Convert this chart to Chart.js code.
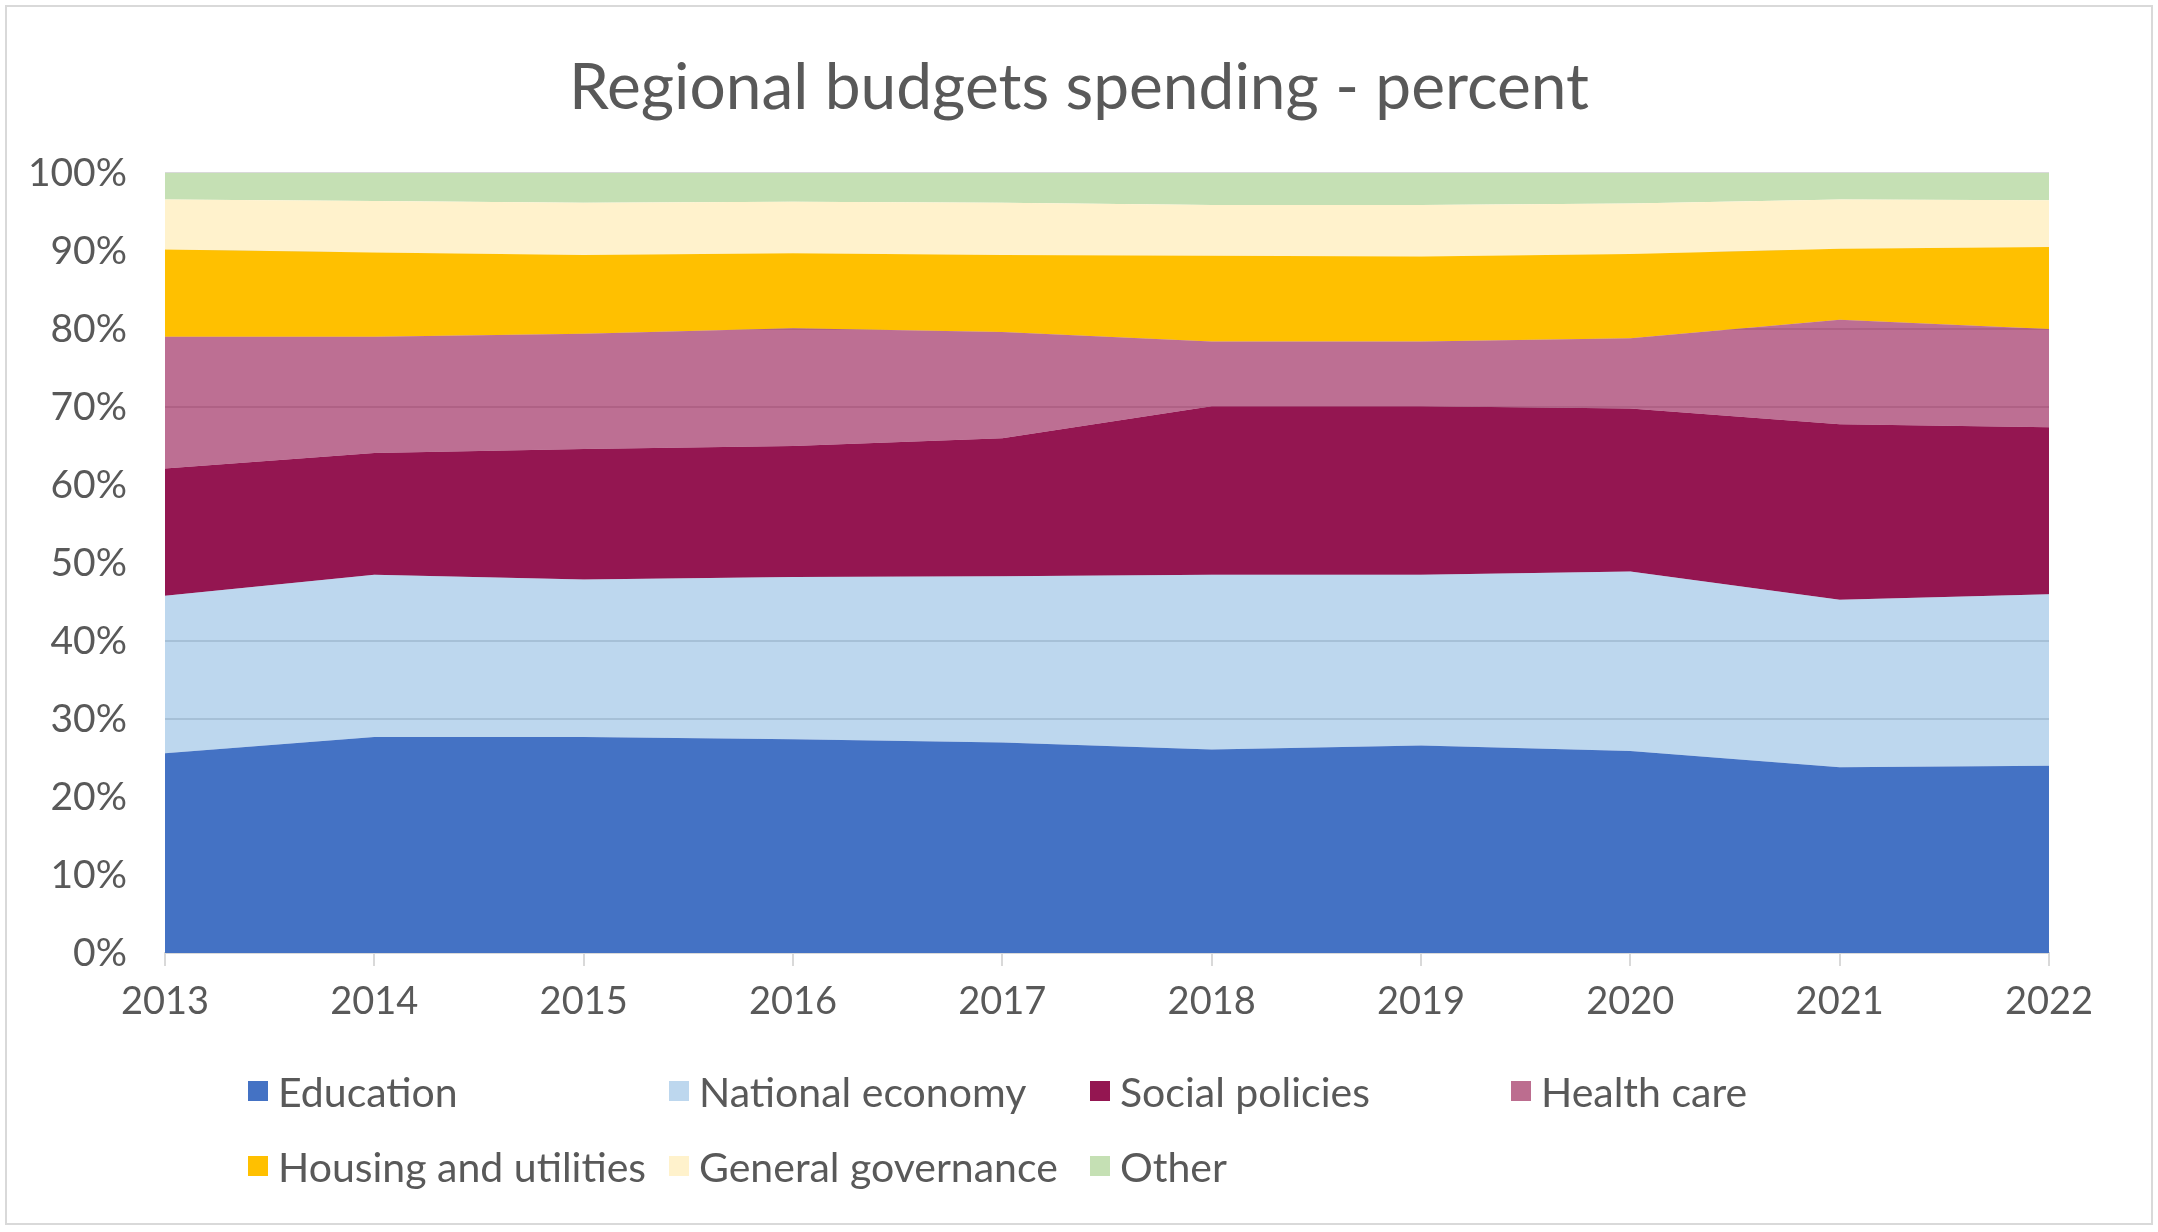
<!DOCTYPE html>
<html>
<head>
<meta charset="utf-8">
<script src="https://cdn.jsdelivr.net/npm/chart.js@4"></script>
<style>
  body { margin: 0; background: #fff; }
  #wrap { position: relative; width: 2158px; height: 1232px; }
  #frame { position: absolute; left: 5px; top: 5px; width: 2144px; height: 1216px; border: 2px solid #D9D9D9; }
  #chart { position: absolute; left: 0; top: 0; }
  #title { position: absolute; left: 0; width: 2158px; top: 46px; line-height: 77px; text-align: center;
    font-family: Lato, "Open Sans", sans-serif; font-size: 64px; color: #595959; }
  #legend { position: absolute; left: 248px; top: 1067px; display: grid; grid-template-columns: repeat(4, 421px); row-gap: 27px;
    font-family: Lato, "Open Sans", sans-serif; font-size: 41px; color: #595959; }
  .item { display: flex; align-items: center; height: 48px; white-space: nowrap; }
  .box { width: 20px; height: 20px; margin-right: 10px; }
</style>
</head>
<body>
<div id="wrap">
  <div id="frame"></div>
  <canvas id="chart" width="2158" height="1232"></canvas>
  <div id="title">Regional budgets spending - percent</div>
  <div id="legend"></div>
</div>
<script>
const years = ["2013", "2014", "2015", "2016", "2017", "2018", "2019", "2020", "2021", "2022"];
const education = [25.6, 27.7, 27.7, 27.4, 27.0, 26.1, 26.6, 25.9, 23.8, 24.0];
const nationalEconomy = [20.2, 20.8, 20.2, 20.8, 21.3, 22.4, 21.9, 23.0, 21.5, 22.0];
const socialPolicies = [16.3, 15.6, 16.7, 16.8, 17.7, 21.6, 21.6, 20.9, 22.5, 21.4];
const healthCare = [16.9, 14.9, 14.8, 15.1, 13.6, 8.3, 8.3, 9.0, 13.4, 12.6];
const housing = [11.2, 10.8, 10.1, 9.6, 9.9, 11.0, 10.9, 10.8, 9.1, 10.5];
const governance = [6.4, 6.6, 6.7, 6.6, 6.7, 6.5, 6.6, 6.5, 6.3, 6.0];
const other = [3.4, 3.6, 3.8, 3.7, 3.8, 4.1, 4.1, 3.9, 3.4, 3.5];
const yTicks = [0, 10, 20, 30, 40, 50, 60, 70, 80, 90, 100];

const series = [
  { label: "Education", data: education, color: "#4472C4" },
  { label: "National economy", data: nationalEconomy, color: "rgba(91,155,213,0.4)", key: "#BDD7EE" },
  { label: "Social policies", data: socialPolicies, color: "#941651" },
  { label: "Health care", data: healthCare, color: "rgba(148,22,81,0.62)", key: "#BC6D8F" },
  { label: "Housing and utilities", data: housing, color: "#FFC000" },
  { label: "General governance", data: governance, color: "#FFF2CC" },
  { label: "Other", data: other, color: "#C5E0B4" },
];

const textColor = "#595959";
const fontFamily = "Lato, 'Open Sans', sans-serif";

new Chart(document.getElementById("chart").getContext("2d"), {
  type: "line",
  data: {
    labels: years,
    datasets: series.map((s, i) => ({
      label: s.label,
      data: s.data,
      backgroundColor: s.color,
      borderWidth: 0,
      pointRadius: 0,
      fill: i === 0 ? "origin" : "-1",
    })),
  },
  options: {
    responsive: false,
    animation: false,
    layout: { padding: { left: 0, right: 109, top: 173, bottom: 205 } },
    plugins: {
      legend: { display: false },
      tooltip: { enabled: false },
    },
    scales: {
      x: {
        offset: false,
        grid: { drawOnChartArea: false, drawTicks: true, tickLength: 13, color: "#D9D9D9", lineWidth: 2 },
        border: { display: true, color: "#D9D9D9", width: 2 },
        ticks: { color: textColor, padding: 13, maxRotation: 0, font: { family: fontFamily, size: 38 } },
        afterFit: (scale) => { scale.height = 74; },
      },
      y: {
        stacked: true,
        min: 0,
        max: 100,
        afterBuildTicks: (scale) => { scale.ticks = yTicks.map((v) => ({ value: v })); },
        grid: { color: "#D9D9D9", lineWidth: 2, drawTicks: false },
        border: { display: false },
        ticks: { color: textColor, padding: 38, font: { family: fontFamily, size: 39 }, callback: (v) => v + "%" },
        afterFit: (scale) => { scale.width = 165; },
      },
    },
  },
});

// legend laid out in fixed columns like the original
const legendEl = document.getElementById("legend");
series.forEach((s) => {
  const item = document.createElement("div");
  item.className = "item";
  const box = document.createElement("span");
  box.className = "box";
  box.style.background = s.key || s.color;
  const txt = document.createElement("span");
  txt.textContent = s.label;
  item.appendChild(box);
  item.appendChild(txt);
  legendEl.appendChild(item);
});
</script>
</body>
</html>
